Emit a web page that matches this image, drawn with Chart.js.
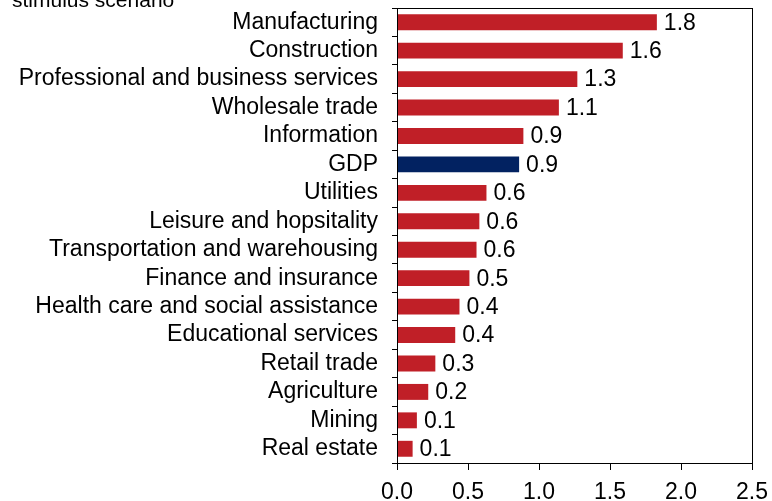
<!DOCTYPE html>
<html>
<head>
<meta charset="utf-8">
<script src="https://cdn.jsdelivr.net/npm/chart.js@4/dist/chart.umd.min.js"></script>
<style>
  html, body { margin: 0; padding: 0; background: #fff; }
  #wrap { width: 772px; height: 501px; position: relative; }
</style>
</head>
<body>
<div id="wrap"><canvas id="sectorChart"></canvas></div>
<script>
const sectors = [
    'Manufacturing', 'Construction', 'Professional and business services', 'Wholesale trade',
    'Information', 'GDP', 'Utilities', 'Leisure and hopsitality',
    'Transportation and warehousing', 'Finance and insurance', 'Health care and social assistance',
    'Educational services', 'Retail trade', 'Agriculture', 'Mining', 'Real estate'
];
const impact = [1.83, 1.59, 1.27, 1.14, 0.89, 0.86, 0.63, 0.58, 0.56, 0.51, 0.44, 0.41, 0.27, 0.22, 0.14, 0.11];
const xTicks = [0, 0.5, 1.0, 1.5, 2.0, 2.5];
const subtitleLine = 'stimulus scenario';

const RED = '#C01F27';
const NAVY = '#022261';
const FONT = 'Liberation Sans, Arial, sans-serif';

document.addEventListener('DOMContentLoaded', function() {
    const ctx = document.getElementById('sectorChart').getContext('2d');

    // value text at the end of each bar, plus the frame and the clipped heading line
    const extras = {
        id: 'extras',
        afterDatasetsDraw(chart) {
            const c = chart.ctx;
            const area = chart.chartArea;
            c.save();
            c.strokeStyle = '#000';
            c.lineWidth = 1;
            c.strokeRect(area.left + 0.5, area.top + 0.5, area.right - area.left, area.bottom - area.top);

            c.fillStyle = '#000';
            c.font = '23px ' + FONT;
            c.textBaseline = 'middle';
            c.textAlign = 'left';
            chart.getDatasetMeta(0).data.forEach(function(bar, i) {
                c.fillText(impact[i].toFixed(1), bar.x + 7, bar.y + 1);
            });

            c.font = '21px ' + FONT;
            c.textBaseline = 'alphabetic';
            c.fillText(subtitleLine, 12, 7);
            c.restore();
        }
    };

    new Chart(ctx, {
        type: 'bar',
        data: {
            labels: sectors,
            datasets: [{
                data: impact,
                backgroundColor: sectors.map(s => s === 'GDP' ? NAVY : RED),
                borderWidth: 0,
                barPercentage: 0.56,
                categoryPercentage: 1.0
            }]
        },
        options: {
            indexAxis: 'y',
            responsive: true,
            maintainAspectRatio: false,
            animation: false,
            layout: { padding: { top: 8, right: 20, left: 0, bottom: 0 } },
            scales: {
                x: {
                    min: 0,
                    max: 2.5,
                    afterBuildTicks: function(scale) {
                        scale.ticks = xTicks.map(v => ({ value: v }));
                    },
                    afterFit: function(scale) {
                        scale.height = 38;
                        scale.paddingLeft = 0;
                        scale.paddingRight = 0;
                    },
                    grid: {
                        drawOnChartArea: false,
                        drawTicks: true,
                        tickLength: 7,
                        color: '#000'
                    },
                    border: { display: true, color: '#000' },
                    ticks: {
                        color: '#000',
                        font: { family: FONT, size: 23 },
                        padding: 9,
                        maxRotation: 0,
                        callback: v => Number(v).toFixed(1)
                    }
                },
                y: {
                    afterFit: function(scale) {
                        scale.width = 397;
                        scale.paddingTop = 0;
                        scale.paddingBottom = 0;
                    },
                    grid: {
                        drawOnChartArea: false,
                        drawTicks: true,
                        tickLength: 5,
                        offset: true,
                        color: '#000'
                    },
                    border: { display: true, color: '#000' },
                    ticks: {
                        color: '#000',
                        font: { family: FONT, size: 23 },
                        padding: 14,
                        autoSkip: false
                    }
                }
            },
            plugins: {
                legend: { display: false },
                tooltip: { enabled: false }
            }
        },
        plugins: [extras]
    });
});
</script>
</body>
</html>
